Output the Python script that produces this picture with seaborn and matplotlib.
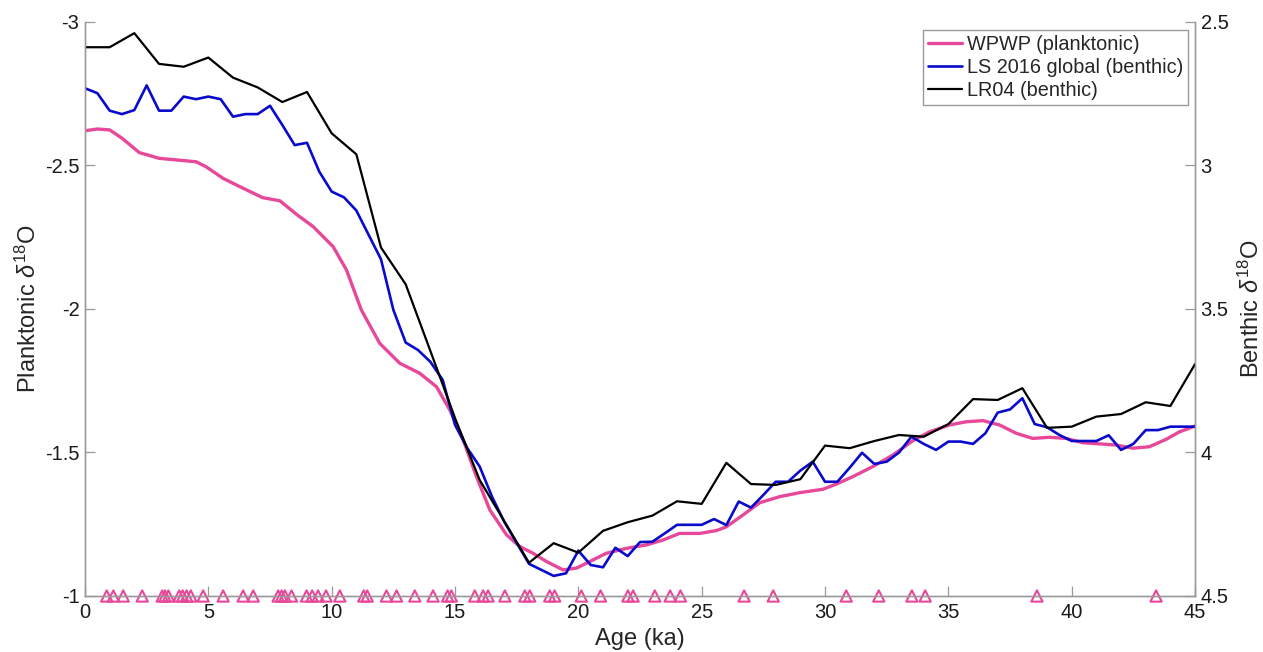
import numpy as np
import pandas as pd
import seaborn as sns
import matplotlib
matplotlib.use("Agg")
import matplotlib.pyplot as plt

# --- WPWP planktonic stack (left axis) ---
wpwp_age = [0.0, 0.5, 1.0, 1.5, 2.2, 3.0, 4.0, 4.5, 4.9, 5.6, 6.4, 7.2, 7.9, 8.6,
            9.25, 10.06, 10.6, 11.2, 11.95, 12.76, 13.57, 14.25, 14.79, 15.33,
            15.87, 16.41, 17.09, 17.63, 18.16, 18.71, 19.38, 19.92, 20.46, 21.14,
            21.95, 22.76, 23.43, 24.1, 24.92, 25.6, 26.0, 26.67, 27.35, 28.16,
            28.97, 29.92, 30.46, 31.13, 31.94, 32.75, 33.56, 34.24, 35.05, 35.72,
            36.4, 37.07, 37.75, 38.42, 39.1, 39.78, 40.45, 41.13, 41.8, 42.48,
            43.15, 43.83, 44.37, 45.0]
wpwp_d18o = [-2.621, -2.627, -2.624, -2.595, -2.545, -2.525, -2.517, -2.513, -2.496,
             -2.455, -2.421, -2.388, -2.377, -2.328, -2.287, -2.217, -2.136, -1.997,
             -1.880, -1.811, -1.776, -1.729, -1.648, -1.544, -1.416, -1.300, -1.213,
             -1.172, -1.149, -1.120, -1.091, -1.097, -1.120, -1.149, -1.166, -1.178,
             -1.195, -1.218, -1.218, -1.228, -1.241, -1.282, -1.325, -1.346, -1.360,
             -1.372, -1.390, -1.416, -1.451, -1.491, -1.541, -1.572, -1.596, -1.607,
             -1.611, -1.596, -1.567, -1.549, -1.553, -1.549, -1.534, -1.530, -1.526,
             -1.515, -1.520, -1.546, -1.572, -1.592]

# --- LS 2016 global benthic stack (right axis), 0.5 ka steps ---
ls16_age = [0.0, 0.5, 1.0, 1.5, 2.0, 2.5, 3.0, 3.5, 4.0, 4.5, 5.0, 5.5, 6.0, 6.5,
            7.0, 7.5, 8.0, 8.5, 9.0, 9.5, 10.0, 10.5, 11.0, 11.5, 12.0, 12.5, 13.0,
            13.5, 14.0, 14.5, 15.0, 15.5, 16.0, 16.5, 17.0, 17.5, 18.0, 18.5, 19.0,
            19.5, 20.0, 20.5, 21.0, 21.5, 22.0, 22.5, 23.0, 23.5, 24.0, 24.5, 25.0,
            25.5, 26.0, 26.5, 27.0, 27.5, 28.0, 28.5, 29.0, 29.5, 30.0, 30.5, 31.0,
            31.5, 32.0, 32.5, 33.0, 33.5, 34.0, 34.5, 35.0, 35.5, 36.0, 36.5, 37.0,
            37.5, 38.0, 38.5, 39.0, 39.5, 40.0, 40.5, 41.0, 41.5, 42.0, 42.5, 43.0,
            43.5, 44.0, 44.5, 45.0]
ls16_d18o = [2.731, 2.748, 2.809, 2.821, 2.807, 2.721, 2.809, 2.809, 2.760, 2.769,
             2.760, 2.769, 2.830, 2.821, 2.821, 2.792, 2.859, 2.929, 2.921, 3.022,
             3.091, 3.111, 3.157, 3.242, 3.327, 3.503, 3.617, 3.643, 3.684, 3.747,
             3.904, 3.985, 4.049, 4.154, 4.242, 4.315, 4.388, 4.409, 4.430, 4.421,
             4.342, 4.392, 4.400, 4.332, 4.361, 4.312, 4.311, 4.282, 4.252, 4.252,
             4.252, 4.232, 4.253, 4.171, 4.192, 4.148, 4.102, 4.102, 4.063, 4.032,
             4.102, 4.102, 4.053, 4.001, 4.040, 4.032, 4.000, 3.945, 3.970, 3.991,
             3.962, 3.962, 3.970, 3.933, 3.861, 3.850, 3.811, 3.901, 3.912, 3.939,
             3.960, 3.960, 3.960, 3.940, 3.991, 3.970, 3.922, 3.922, 3.910, 3.910,
             3.910]

# --- LR04 benthic stack (right axis), 1 ka steps ---
lr04_age = list(range(0, 46))
lr04_d18o = [2.588, 2.588, 2.539, 2.646, 2.656, 2.624, 2.694, 2.728, 2.779, 2.744,
             2.888, 2.961, 3.286, 3.414, 3.646, 3.880, 4.096, 4.240, 4.384, 4.316,
             4.349, 4.273, 4.243, 4.220, 4.170, 4.179, 4.036, 4.110, 4.113, 4.093,
             3.976, 3.985, 3.960, 3.939, 3.945, 3.901, 3.814, 3.817, 3.776, 3.914,
             3.910, 3.875, 3.866, 3.825, 3.838, 3.692]

# --- Radiocarbon / tie-point ages of the WPWP record ---
tie_ages = [0.88, 1.15, 1.55, 2.32, 3.13, 3.24, 3.38, 3.82, 3.96, 4.12, 4.29, 4.79,
            5.60, 6.41, 6.82, 7.83, 7.97, 8.10, 8.37, 8.98, 9.21, 9.45, 9.77, 10.33,
            11.30, 11.44, 12.22, 12.63, 13.37, 14.11, 14.70, 14.85, 15.80, 16.14,
            16.34, 17.02, 17.83, 18.03, 18.84, 19.04, 20.12, 20.90, 22.01, 22.22,
            23.10, 23.72, 24.14, 26.72, 27.90, 30.86, 32.18, 33.52, 34.06, 38.59,
            43.42]

x_ticks = [0, 5, 10, 15, 20, 25, 30, 35, 40, 45]
left_ticks = [-3, -2.5, -2, -1.5, -1]
left_labels = ["-3", "-2.5", "-2", "-1.5", "-1"]
right_ticks = [2.5, 3, 3.5, 4, 4.5]
right_labels = ["2.5", "3", "3.5", "4", "4.5"]

PINK = "#E8489A"
BLUE = "#0A0ACD"
BLACK = "#000000"
AXIS_GREY = "#9a9a9a"

TICK_FS = 14.5
LABEL_FS = 17
LEGEND_FS = 14.3

sns.set_style("white")
plt.rcParams["font.family"] = ["Liberation Sans", "DejaVu Sans"]
plt.rcParams["mathtext.fontset"] = "custom"
plt.rcParams["mathtext.rm"] = "Liberation Sans"
plt.rcParams["mathtext.it"] = "Liberation Sans:italic"
plt.rcParams["axes.unicode_minus"] = False

fig = plt.figure(figsize=(12.63, 6.52), dpi=100)
ax = fig.add_axes([0.0673, 0.0859, 0.8789, 0.8804])
ax2 = ax.twinx()

wpwp = pd.DataFrame({"age": wpwp_age, "d18o": wpwp_d18o})
ls16 = pd.DataFrame({"age": ls16_age, "d18o": ls16_d18o})
lr04 = pd.DataFrame({"age": lr04_age, "d18o": lr04_d18o})
ties = pd.DataFrame({"age": tie_ages, "d18o": [-1.0] * len(tie_ages)})

sns.lineplot(data=wpwp, x="age", y="d18o", ax=ax, color=PINK, lw=2.4,
             label="WPWP (planktonic)", legend=False)
sns.scatterplot(data=ties, x="age", y="d18o", ax=ax, marker="^", s=66,
                facecolor="none", edgecolor=PINK, linewidth=1.5, clip_on=False,
                zorder=5, legend=False)
sns.lineplot(data=ls16, x="age", y="d18o", ax=ax2, color=BLUE, lw=1.9,
             label="LS 2016 global (benthic)", legend=False)
sns.lineplot(data=lr04, x="age", y="d18o", ax=ax2, color=BLACK, lw=1.6,
             label="LR04 (benthic)", legend=False)

ax.set_xlim(0, 45)
ax.set_ylim(-1, -3)
ax2.set_ylim(4.5, 2.5)
ax.set_xticks(x_ticks)
ax.set_xticklabels([str(t) for t in x_ticks])
ax.set_yticks(left_ticks)
ax.set_yticklabels(left_labels)
ax2.set_yticks(right_ticks)
ax2.set_yticklabels(right_labels)

for a in (ax, ax2):
    a.spines["top"].set_visible(False)
    for s in ("left", "right", "bottom"):
        a.spines[s].set_color(AXIS_GREY)
        a.spines[s].set_linewidth(1.0)
    a.tick_params(direction="in", length=7, width=0.9, color=AXIS_GREY,
                  labelsize=TICK_FS, labelcolor="#1a1a1a", pad=4)
ax.tick_params(axis="y", left=True, right=False)
ax.tick_params(axis="x", bottom=True, top=False, pad=5)
ax2.tick_params(axis="y", right=True, left=False)

ax.set_xlabel("Age (ka)", fontsize=LABEL_FS)
ax.xaxis.set_label_coords(0.5, -0.056)
ax.set_ylabel(r"Planktonic $\delta^{18}$O", fontsize=LABEL_FS)
ax.yaxis.set_label_coords(-0.040, 0.5)
ax2.set_ylabel(r"Benthic $\delta^{18}$O", fontsize=LABEL_FS, rotation=90)
ax2.yaxis.set_label_coords(1.039, 0.5)

h1, l1 = ax.get_legend_handles_labels()
h2, l2 = ax2.get_legend_handles_labels()
leg = ax2.legend(h1 + h2, l1 + l2, loc="upper right",
                 bbox_to_anchor=(0.994, 0.986), borderaxespad=0, fontsize=LEGEND_FS,
                 frameon=True, fancybox=False, framealpha=1, edgecolor=AXIS_GREY,
                 handlelength=1.7, handletextpad=0.25, labelspacing=0.2,
                 borderpad=0.25)
leg.get_frame().set_linewidth(1.0)

fig.savefig("out.png", dpi=100)
